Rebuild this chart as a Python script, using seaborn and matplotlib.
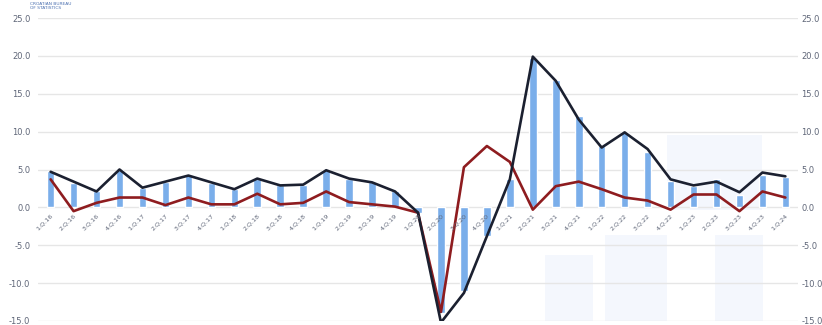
import numpy as np
import pandas as pd
import matplotlib
matplotlib.use('Agg')
import matplotlib.pyplot as plt
from matplotlib.patches import Rectangle
import seaborn as sns

#_________________________________DATA________________________________________

kvartali = ['1.Q.16', '2.Q.16', '3.Q.16', '4.Q.16',
            '1.Q.17', '2.Q.17', '3.Q.17', '4.Q.17',
            '1.Q.18', '2.Q.18', '3.Q.18', '4.Q.18',
            '1.Q.19', '2.Q.19', '3.Q.19', '4.Q.19',
            '1.Q.20', '2.Q.20', '3.Q.20', '4.Q.20',
            '1.Q.21', '2.Q.21', '3.Q.21', '4.Q.21',
            '1.Q.22', '2.Q.22', '3.Q.22', '4.Q.22',
            '1.Q.23', '2.Q.23', '3.Q.23', '4.Q.23',
            '1.Q.24']

stupci = [4.8, 3.2, 2.2, 5.0, 2.6, 3.3, 4.3, 3.2, 2.4, 3.8, 3.0, 3.0,
          4.9, 3.7, 3.4, 2.2, -0.8, -14.0, -11.0, -3.8, 3.7, 19.7, 16.8, 12.0,
          8.1, 10.0, 7.3, 3.5, 2.8, 3.8, 1.6, 4.3, 4.0]

crna_linija = [4.7, 3.4, 2.1, 5.0, 2.6, 3.4, 4.2, 3.3, 2.4, 3.8, 2.9, 3.0,
               4.9, 3.8, 3.3, 2.1, -0.7, -15.2, -11.3, -3.8, 3.7, 19.9, 16.7, 11.6,
               7.9, 9.9, 7.7, 3.7, 2.9, 3.4, 2.0, 4.6, 4.1]

crvena_linija = [3.7, -0.5, 0.6, 1.3, 1.3, 0.3, 1.3, 0.4, 0.4, 1.8, 0.4, 0.6,
                 2.1, 0.7, 0.4, 0.1, -0.7, -13.8, 5.3, 8.1, 6.0, -0.3, 2.8, 3.4,
                 2.4, 1.3, 0.9, -0.3, 1.7, 1.7, -0.5, 2.1, 1.3]

y_ticks = [-15, -10, -5, 0, 5, 10, 15, 20, 25]

df = pd.DataFrame({'kvartal': kvartali, 'stupci': stupci,
                   'crna': crna_linija, 'crvena': crvena_linija})
df['poz'] = np.arange(len(df))

#_________________________________GRAF________________________________________

sns.set_style('white')
plt.rcParams['font.family'] = ['DejaVu Sans']

fig = plt.figure(figsize=(8.22, 3.25), dpi=100)
ax = fig.add_axes([38 / 822, 4 / 325, 760 / 822, 303 / 325])

# blijedi vodeni zig (logo) dolje desno, iza svega
for (x0, y0, w, h) in [(545, 255, 48, 70), (605, 235, 62, 90), (667, 135, 95, 75),
                       (715, 235, 48, 90)]:
    ax.add_patch(Rectangle((x0 / 822, 1 - (y0 + h) / 325), w / 822, h / 325,
                           transform=fig.transFigure, color='#f4f7fd', zorder=0.2,
                           lw=0))

for yy in y_ticks:
    ax.axhline(yy, color='#e6e6e6', lw=1.0, zorder=0.5)

sns.barplot(data=df, x='poz', y='stupci', color='#7aaeea', width=0.33,
            native_scale=True, saturation=1, ax=ax, zorder=2)
sns.lineplot(data=df, x='poz', y='crna', color='#1b2030', lw=1.9, ax=ax, zorder=4)
sns.lineplot(data=df, x='poz', y='crvena', color='#8e1c1f', lw=1.9, ax=ax, zorder=3)

ax.set_xlim(-0.55, len(df) - 0.45)
ax.set_ylim(-15, 25)
ax.set_xticks([])
ax.set_yticks(y_ticks)
ax.set_yticklabels([f'{v:.1f}' for v in y_ticks])
ax.tick_params(axis='y', length=0, pad=5.5, labelsize=6, labelcolor='#5f6678')
ax.set_xlabel('')
ax.set_ylabel('')
sns.despine(ax=ax, left=True, bottom=True)

ax2 = ax.twinx()
ax2.set_ylim(-15, 25)
ax2.set_yticks(y_ticks)
ax2.set_yticklabels([f'{v:.1f}' for v in y_ticks])
ax2.tick_params(axis='y', length=0, pad=2.5, labelsize=6, labelcolor='#5f6678')
for s in ax2.spines.values():
    s.set_visible(False)

# oznake kvartala ispod nulte linije
for i, k in enumerate(kvartali):
    ax.text(i + 0.15, -0.7, k, rotation=45, ha='right', va='top',
            fontsize=4.6, color='#5f6678', zorder=5)

# logo tekst gore lijevo
fig.text(30 / 822, 1 - 2 / 325, 'CROATIAN BUREAU\nOF STATISTICS', fontsize=3.2,
         color='#4a6fb0', va='top', ha='left', linespacing=1.1)

fig.savefig('out.png', dpi=100)
